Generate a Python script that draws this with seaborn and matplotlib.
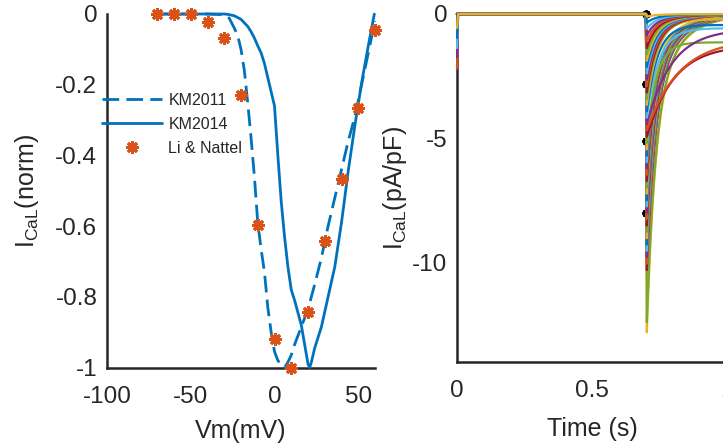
import numpy as np
import pandas as pd
import matplotlib
matplotlib.use("Agg")
import matplotlib.pyplot as plt
from matplotlib.lines import Line2D
import seaborn as sns

# ---------------- left panel data (normalised I-V) ----------------
km2011_v = [-70, -60, -50, -40, -30, -27, -24, -22, -20, -18, -16, -14, -12, -10, -8, -6, -4, -2,
            0, 2, 4, 6, 8, 10, 12, 16, 20, 24, 28, 32, 36, 40, 44, 48, 52, 56, 60]
km2011_i = [0.0, 0.0, 0.0, 0.0, -0.002, -0.012, -0.04, -0.06, -0.10, -0.16, -0.25, -0.35, -0.46,
            -0.59, -0.665, -0.73, -0.83, -0.90, -0.955, -0.98, -0.993, -1.0, -0.985, -0.965, -0.935,
            -0.885, -0.835, -0.765, -0.69, -0.60, -0.52, -0.44, -0.36, -0.29, -0.20, -0.11, -0.02]

km2014_v = [-70, -60, -50, -40, -30, -28, -24, -20, -16, -14, -12, -10, -8, -6, -4, -2, 0, 2, 4, 6,
            8, 10, 12, 14, 16, 18, 20, 21, 22, 24, 28, 32, 36, 40, 44, 48, 52, 56, 59.6]
km2014_i = [0.0, 0.0, 0.0, 0.0, 0.0, -0.001, -0.005, -0.015, -0.035, -0.05, -0.068, -0.09, -0.11,
            -0.14, -0.18, -0.22, -0.26, -0.40, -0.53, -0.63, -0.715, -0.78, -0.81, -0.845, -0.88,
            -0.935, -0.99, -1.0, -0.985, -0.945, -0.885, -0.80, -0.715, -0.59, -0.445, -0.315,
            -0.195, -0.09, 0.0]

nattel_v = [-70, -60, -50, -40, -30, -20, -10, 0, 10, 20, 30, 40, 50, 60]
nattel_i = [0.0, 0.0, 0.0, -0.023, -0.067, -0.229, -0.597, -0.918, -1.0, -0.844, -0.642,
            -0.468, -0.265, -0.045]

# ---------------- right panel data (current traces) ----------------
step_time = 0.7
peak_current = [-0.10, -0.35, -0.60, -0.86, -1.11, -1.37, -1.62, -1.88, -2.13, -2.39, -2.64,
                -2.90, -3.15, -3.41, -3.66, -3.92, -4.17, -4.43, -4.68, -4.94, -5.19, -5.45,
                -5.70, -5.96, -6.21, -6.47, -6.72, -6.98, -7.23, -7.49, -7.74, -8.00, -8.25,
                -8.51, -8.76, -9.02, -9.27, -9.53, -9.78, -10.04, -10.30, -12.40, -12.80]
initial_spike = [-0.56, -0.96, -1.37, -1.73, -2.20]          # traces 0..4 at t = 0
late_level = {14: -0.21, 15: -0.44, 16: -0.57, 17: -0.60, 18: -1.00, 19: -1.25, 20: -1.14}
late_tau = {14: 0.04, 15: 0.04, 16: 0.045, 17: 0.092, 18: 0.118, 19: 0.10, 20: 0.035}
ref_t = [0.70, 0.70, 0.70, 0.70]
ref_i = [0.0, -2.8, -5.1, -8.0]

matlab_colors = ["#0072BD", "#D95319", "#EDB120", "#7E2F8E", "#77AC30", "#4DBEEE", "#A2142F"]
BLUE, ORANGE = matlab_colors[0], matlab_colors[1]
TXT = "#262626"

# ---------------- style ----------------
sns.set_style("white")
plt.rcParams["font.family"] = ["Liberation Sans", "DejaVu Sans"]
plt.rcParams["mathtext.fontset"] = "custom"
plt.rcParams["mathtext.rm"] = "Liberation Sans"
plt.rcParams["mathtext.it"] = "Liberation Sans:italic"
plt.rcParams["axes.unicode_minus"] = False
plt.rcParams["text.color"] = TXT
plt.rcParams["axes.labelcolor"] = TXT
plt.rcParams["xtick.color"] = TXT
plt.rcParams["ytick.color"] = TXT

W, H = 723, 446
fig = plt.figure(figsize=(W / 100, H / 100), dpi=100)
fig.patch.set_facecolor("white")

axL = fig.add_axes([107 / W, 1 - 367.5 / H, (375 - 107) / W, (367.5 - 14) / H])
axR = fig.add_axes([457 / W, 1 - 362 / H, 270 / W, (362 - 14) / H])

MK = dict(marker=(8, 2, 0), markersize=9, markeredgewidth=2.1)

# ---------------- left panel ----------------
sns.lineplot(x=km2011_v, y=km2011_i, ax=axL, color=BLUE, linewidth=2.0,
             linestyle=(0, (6, 2.6)), sort=False, estimator=None, clip_on=False, zorder=3)
sns.lineplot(x=km2014_v, y=km2014_i, ax=axL, color=BLUE, linewidth=2.0,
             sort=False, estimator=None, clip_on=False, zorder=3)
sns.lineplot(x=nattel_v, y=nattel_i, ax=axL, color=ORANGE, linestyle="",
             markeredgecolor=ORANGE, sort=False, estimator=None, clip_on=False, zorder=4, **MK)

axL.set_xlim(-100, 60)
axL.set_ylim(-1, 0)
axL.set_xticks([-100, -50, 0, 50])
axL.set_xticklabels(["-100", "-50", "0", "50"])
axL.set_yticks([0, -0.2, -0.4, -0.6, -0.8, -1])
axL.set_yticklabels(["0", "-0.2", "-0.4", "-0.6", "-0.8", "-1"])
axL.set_xlabel("Vm(mV)", fontsize=18)
axL.set_ylabel(r"I$_{\mathrm{CaL}}$(norm)", fontsize=18)
axL.xaxis.set_label_coords(0.5, -0.147)
axL.yaxis.set_label_coords(-0.245, 0.5)

handles = [Line2D([], [], color=BLUE, lw=2.0, linestyle=(0, (6, 2.6))),
           Line2D([], [], color=BLUE, lw=2.0),
           Line2D([], [], color=ORANGE, linestyle="", markeredgecolor=ORANGE, **MK)]
axL.legend(handles, ["KM2011", "KM2014", "Li & Nattel"], loc="upper left",
           bbox_to_anchor=(102 / W, 1 - 93 / H), bbox_transform=fig.transFigure,
           frameon=False, fontsize=11.5, handlelength=3.75, handletextpad=0.4,
           borderpad=0, borderaxespad=0, labelspacing=0.55, numpoints=1)

# ---------------- right panel ----------------
rows = []
for k, p in enumerate(peak_current):
    q = initial_spike[k] if k < len(initial_spike) else 0.0
    t_pre = [0.0, 0.004, step_time]
    i_pre = [q, 0.0, 0.0]
    dt = np.linspace(0, 0.3, 500)
    if k in late_level:
        ss = late_level[k]
        i_post = ss + (p - ss) * np.exp(-dt / late_tau[k])
    else:
        i_post = p * (0.7 * np.exp(-dt / 0.032) + 0.3 * np.exp(-dt / 0.1))
    t_all = np.concatenate([t_pre, step_time + 0.003 + dt])
    i_all = np.concatenate([i_pre, i_post])
    for tt, ii in zip(t_all, i_all):
        rows.append((f"k{k:02d}", tt, ii))
traces = pd.DataFrame(rows, columns=["trace", "t", "I"])

order = [f"k{k:02d}" for k in range(len(peak_current) - 1, -1, -1)]   # deepest first
palette = {f"k{k:02d}": matlab_colors[((3 + 5 * k) % 7 or 7) - 1] for k in range(len(peak_current))}

axR.plot(ref_t, ref_i, linestyle="", marker=(8, 2, 0), color="black", markersize=6,
         markeredgewidth=1.6, zorder=1, clip_on=False)
sns.lineplot(data=traces, x="t", y="I", hue="trace", hue_order=order, palette=palette,
             estimator=None, sort=False, legend=False, linewidth=1.6, ax=axR,
             clip_on=False, zorder=3)

axR.set_xlim(0, 1)
axR.set_ylim(-14, 0)
axR.set_xticks([0, 0.5, 1])
axR.set_xticklabels(["0", "0.5", "1"])
axR.set_yticks([0, -5, -10])
axR.set_yticklabels(["0", "-5", "-10"])
axR.set_xlabel("Time (s)", fontsize=18)
axR.set_ylabel(r"I$_{\mathrm{CaL}}$(pA/pF)", fontsize=18)
axR.xaxis.set_label_coords(0.5, -0.158)
axR.yaxis.set_label_coords(-0.178, 0.5)

for ax in (axL, axR):
    for side in ("top", "right"):
        ax.spines[side].set_visible(False)
    for side in ("left", "bottom"):
        ax.spines[side].set_color(TXT)
        ax.spines[side].set_linewidth(1.8)
    ax.tick_params(axis="both", direction="in", length=4, width=1.8, labelsize=17.5)
    ax.tick_params(axis="x", pad=13)
    ax.tick_params(axis="y", pad=7)
    ax.set_facecolor("white")

fig.savefig("out.png", dpi=100)
